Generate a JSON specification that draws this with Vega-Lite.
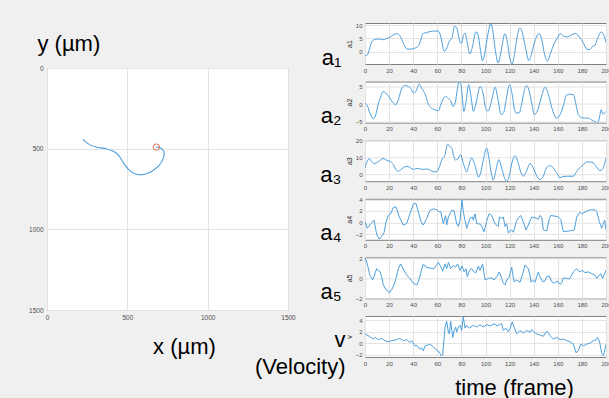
{
  "$schema": "https://vega.github.io/schema/vega-lite/v6.json",
  "background": "#f0f0f0",
  "padding": {"left": 28, "top": 21, "right": 0, "bottom": 0},
  "spacing": -42,
  "datasets": {
    "traj": [
      {"t":0,"x":223,"y":442},{"t":1,"x":265,"y":475},{"t":2,"x":306,"y":490},{"t":3,"x":369,"y":500},{"t":4,"x":410,"y":515},{"t":5,"x":442,"y":537},{"t":6,"x":473,"y":583},{"t":7,"x":504,"y":625},{"t":8,"x":535,"y":650},{"t":9,"x":577,"y":662},{"t":10,"x":619,"y":656},{"t":11,"x":660,"y":635},{"t":12,"x":698,"y":604},{"t":13,"x":723,"y":562},{"t":14,"x":729,"y":525},{"t":15,"x":719,"y":504},{"t":16,"x":698,"y":492},{"t":17,"x":681,"y":490}
    ],
    "start": [{"x":681,"y":490}],
    "a1": [
      {"f":0,"y":-1.6},{"f":2,"y":-1.2},{"f":4,"y":1.5},{"f":6,"y":4.0},{"f":9,"y":4.7},{"f":12,"y":4.8},{"f":15,"y":4.5},{"f":18,"y":5.0},{"f":21,"y":5.5},{"f":24,"y":6.5},{"f":27,"y":6.8},{"f":29,"y":6.0},{"f":32,"y":3.0},{"f":35,"y":1.0},{"f":38,"y":1.0},{"f":41,"y":1.3},{"f":44,"y":2.0},{"f":46,"y":4.0},{"f":48,"y":6.8},{"f":51,"y":7.2},{"f":54,"y":7.6},{"f":58,"y":7.8},{"f":61,"y":7.7},{"f":63,"y":5.5},{"f":65,"y":1.0},{"f":66,"y":0.2},{"f":68,"y":1.5},{"f":70,"y":4.0},{"f":72,"y":5.0},{"f":74.5,"y":9.6},{"f":76.5,"y":8.5},{"f":78.5,"y":4.0},{"f":80,"y":3.2},{"f":82,"y":6.5},{"f":83,"y":7.0},{"f":85,"y":3.0},{"f":87,"y":-0.8},{"f":89,"y":1.5},{"f":92,"y":7.5},{"f":94,"y":6.0},{"f":96,"y":0},{"f":97.5,"y":-3.4},{"f":99,"y":-1.5},{"f":101,"y":4},{"f":104.5,"y":10.6},{"f":106,"y":8},{"f":108,"y":1},{"f":110.5,"y":-4.2},{"f":112,"y":-2},{"f":114,"y":3},{"f":116,"y":6.8},{"f":118,"y":4},{"f":120,"y":-2},{"f":122,"y":-4.6},{"f":124,"y":-1},{"f":126,"y":5},{"f":128.5,"y":9},{"f":130,"y":8},{"f":133,"y":2},{"f":136,"y":-3.3},{"f":138,"y":-1},{"f":141,"y":4},{"f":144.5,"y":6.8},{"f":147,"y":4},{"f":149,"y":-1},{"f":151.5,"y":-3.5},{"f":154,"y":-0.5},{"f":157,"y":3},{"f":160,"y":5.5},{"f":162,"y":6.8},{"f":165,"y":5.8},{"f":168,"y":5.6},{"f":170,"y":6.0},{"f":172,"y":6.5},{"f":175,"y":6.9},{"f":178,"y":5.5},{"f":181,"y":3.5},{"f":184,"y":1.0},{"f":186,"y":0.8},{"f":189,"y":2.0},{"f":191,"y":2.5},{"f":193,"y":5.0},{"f":196,"y":7.4},{"f":198,"y":6.5},{"f":200,"y":3.5}
    ],
    "a2": [
      {"f":0,"y":0.3},{"f":2,"y":-0.5},{"f":4,"y":-2.5},{"f":7,"y":-4.2},{"f":9,"y":-3},{"f":11,"y":0},{"f":13,"y":2},{"f":15,"y":3.6},{"f":17,"y":3.2},{"f":20,"y":2},{"f":23,"y":0.5},{"f":25.5,"y":-0.2},{"f":28,"y":1.5},{"f":30,"y":4},{"f":33,"y":5.3},{"f":36,"y":5},{"f":38,"y":4.5},{"f":40,"y":3.2},{"f":42,"y":3.5},{"f":45,"y":5.7},{"f":47,"y":4.5},{"f":50,"y":2.7},{"f":52,"y":0.5},{"f":54.5,"y":-1},{"f":57,"y":-1.5},{"f":61,"y":-1.9},{"f":63,"y":0},{"f":65,"y":1.5},{"f":67,"y":2.2},{"f":69,"y":1.6},{"f":71,"y":1.0},{"f":73,"y":-0.7},{"f":75,"y":0.5},{"f":76.5,"y":4},{"f":78,"y":6.3},{"f":79.5,"y":5.8},{"f":81,"y":1},{"f":82,"y":-2.1},{"f":84,"y":1},{"f":86,"y":5.5},{"f":88,"y":2},{"f":90,"y":-2.1},{"f":92,"y":0},{"f":95.5,"y":5},{"f":98,"y":3},{"f":100,"y":-1},{"f":102,"y":-2},{"f":104,"y":-0.5},{"f":106,"y":2.5},{"f":108,"y":4.8},{"f":110,"y":2},{"f":113,"y":-3},{"f":115,"y":-2.5},{"f":117,"y":1},{"f":120,"y":5.5},{"f":122,"y":3},{"f":124,"y":-1.5},{"f":125.5,"y":-2.6},{"f":128,"y":-2.5},{"f":130,"y":0},{"f":132,"y":3.5},{"f":134,"y":5.3},{"f":136,"y":4},{"f":138.5,"y":0},{"f":140.5,"y":-3},{"f":143,"y":-2},{"f":146,"y":1.5},{"f":149.5,"y":4.8},{"f":152,"y":3},{"f":155,"y":-1},{"f":159,"y":-4},{"f":162,"y":-3},{"f":165,"y":0},{"f":167,"y":2.5},{"f":170,"y":2.8},{"f":173,"y":2.7},{"f":175,"y":0},{"f":177,"y":-3},{"f":179,"y":-3.8},{"f":182,"y":-4},{"f":185,"y":-4},{"f":188,"y":-4.5},{"f":191,"y":-5.1},{"f":193,"y":-5.4},{"f":194.5,"y":-4},{"f":196,"y":-1.6},{"f":197.5,"y":-2.9},{"f":199,"y":-2.5},{"f":200,"y":-2.1}
    ],
    "a3": [
      {"f":0,"y":4},{"f":2,"y":8},{"f":3.6,"y":9.2},{"f":5.5,"y":7.5},{"f":7.5,"y":6.4},{"f":10,"y":7},{"f":13,"y":8.5},{"f":15,"y":9.3},{"f":18,"y":8.3},{"f":21,"y":7.6},{"f":23.5,"y":5.8},{"f":25.5,"y":3},{"f":27,"y":1.9},{"f":30,"y":3},{"f":33,"y":4.5},{"f":35,"y":4.8},{"f":38,"y":3.8},{"f":40,"y":3},{"f":42,"y":3.3},{"f":44,"y":3.6},{"f":46,"y":3.2},{"f":48,"y":3.0},{"f":51,"y":3.2},{"f":53,"y":3},{"f":55,"y":2.2},{"f":58,"y":1.5},{"f":60,"y":2},{"f":62,"y":5},{"f":64,"y":9},{"f":66,"y":10.5},{"f":68.6,"y":17.8},{"f":70,"y":16.5},{"f":72,"y":15.3},{"f":73.5,"y":11},{"f":75,"y":8.5},{"f":77,"y":9},{"f":79.4,"y":11.6},{"f":81,"y":8},{"f":83,"y":3.5},{"f":84.4,"y":1.5},{"f":86,"y":5},{"f":88.5,"y":9.7},{"f":90.5,"y":7},{"f":92.5,"y":2},{"f":94,"y":-1.6},{"f":96,"y":1},{"f":98,"y":8},{"f":101,"y":15.3},{"f":103,"y":9},{"f":105,"y":0},{"f":106.5,"y":-3.3},{"f":108.5,"y":2},{"f":111,"y":8.7},{"f":113,"y":5},{"f":115.5,"y":-1.5},{"f":117.6,"y":-3.9},{"f":120,"y":0},{"f":122,"y":7},{"f":124.5,"y":11},{"f":127,"y":7},{"f":129,"y":2},{"f":131.4,"y":-1},{"f":134,"y":2},{"f":137,"y":6.4},{"f":139.5,"y":4},{"f":142,"y":0},{"f":145,"y":-2.9},{"f":148,"y":-1},{"f":150,"y":3},{"f":153,"y":5.2},{"f":156,"y":4},{"f":159,"y":1},{"f":161.8,"y":-1.9},{"f":164,"y":-1.2},{"f":167,"y":-1},{"f":170,"y":-1},{"f":173,"y":-1},{"f":175,"y":1},{"f":178,"y":3.9},{"f":181,"y":5.5},{"f":184,"y":7.4},{"f":187,"y":7.2},{"f":189.5,"y":6.8},{"f":192,"y":4.5},{"f":195,"y":2.3},{"f":197,"y":3},{"f":200,"y":9.7}
    ],
    "a4": [
      {"f":0,"y":0.1},{"f":1.9,"y":-1.0},{"f":5,"y":-0.2},{"f":7.5,"y":0.4},{"f":9.7,"y":-2.1},{"f":11.9,"y":-2.9},{"f":13.8,"y":-2.4},{"f":15.8,"y":-1.8},{"f":17.4,"y":0.1},{"f":19.4,"y":1.2},{"f":21.3,"y":1.5},{"f":23.5,"y":2.6},{"f":25.7,"y":2.7},{"f":28.5,"y":0.95},{"f":31.8,"y":-0.45},{"f":34.6,"y":-0.2},{"f":37.3,"y":1.5},{"f":40.1,"y":3.2},{"f":42.3,"y":3.3},{"f":44.3,"y":1.8},{"f":46.5,"y":0.1},{"f":48.4,"y":-0.45},{"f":51.2,"y":0.7},{"f":53.9,"y":2.1},{"f":56.7,"y":2.35},{"f":59.5,"y":2.2},{"f":61.7,"y":1.8},{"f":62.8,"y":1.9},{"f":65,"y":-0.2},{"f":66.9,"y":1.2},{"f":67.8,"y":-0.45},{"f":69.2,"y":0.95},{"f":71.9,"y":2.1},{"f":73.9,"y":2.0},{"f":76.1,"y":-0.2},{"f":77.5,"y":-0.7},{"f":78.8,"y":0.4},{"f":80.5,"y":3.9},{"f":81.6,"y":1.8},{"f":84.4,"y":-1.0},{"f":87.1,"y":0.7},{"f":89.1,"y":0.95},{"f":89.9,"y":0.4},{"f":91.3,"y":1.5},{"f":92.7,"y":-0.2},{"f":96,"y":-0.3},{"f":98.8,"y":-1.6},{"f":101,"y":0.2},{"f":102.9,"y":1.5},{"f":105.1,"y":1.2},{"f":107.9,"y":-0.2},{"f":110.6,"y":-0.7},{"f":111.5,"y":0.95},{"f":113.4,"y":0.7},{"f":114.8,"y":0.95},{"f":116.2,"y":-0.7},{"f":117.6,"y":-0.2},{"f":119,"y":-1.8},{"f":121.7,"y":-1.3},{"f":123.1,"y":-1.7},{"f":125.9,"y":0.4},{"f":128.1,"y":0.95},{"f":129.2,"y":1.2},{"f":131.4,"y":0.1},{"f":133.6,"y":-1.3},{"f":135.5,"y":-0.45},{"f":138.3,"y":0.95},{"f":142.5,"y":0.7},{"f":143.8,"y":0.55},{"f":145.2,"y":1.2},{"f":146.6,"y":0.95},{"f":148,"y":-1.3},{"f":150.8,"y":-1.45},{"f":153,"y":0.7},{"f":154.1,"y":1.2},{"f":157.7,"y":1.1},{"f":160.4,"y":0.95},{"f":162.4,"y":0.55},{"f":164.6,"y":-1.6},{"f":170.1,"y":-1.45},{"f":173.7,"y":-1.3},{"f":175.7,"y":0.95},{"f":178.4,"y":1.8},{"f":179.8,"y":1.5},{"f":182.6,"y":1.8},{"f":186.7,"y":2.2},{"f":190.9,"y":2.2},{"f":192.3,"y":1.9},{"f":194.5,"y":0.1},{"f":196.4,"y":-1.0},{"f":197.8,"y":-0.2},{"f":198.9,"y":0.4},{"f":200,"y":-1.3}
    ],
    "a5": [
      {"f":0,"y":2.1},{"f":1.9,"y":1.45},{"f":4.1,"y":0.3},{"f":6.4,"y":-0.15},{"f":9.7,"y":0.97},{"f":12.4,"y":0.65},{"f":13.8,"y":0.16},{"f":15.2,"y":-0.65},{"f":17.4,"y":-1.13},{"f":18.8,"y":-1.23},{"f":20.2,"y":-1.45},{"f":22.1,"y":-1.13},{"f":24.1,"y":-0.65},{"f":25.7,"y":0},{"f":27.7,"y":0.97},{"f":29.6,"y":1.45},{"f":32.4,"y":0.8},{"f":34.6,"y":0.32},{"f":37.3,"y":0},{"f":40.1,"y":-0.48},{"f":42.9,"y":-0.65},{"f":44.3,"y":-0.32},{"f":46.5,"y":0.65},{"f":48.4,"y":1.45},{"f":50.6,"y":1.13},{"f":53.9,"y":1.03},{"f":57.3,"y":0.97},{"f":59.5,"y":1.36},{"f":60.9,"y":1.6},{"f":63.1,"y":1.13},{"f":64.5,"y":0.71},{"f":66.4,"y":1.45},{"f":67.8,"y":0.97},{"f":69.2,"y":1.6},{"f":71.1,"y":0.97},{"f":73.3,"y":1.3},{"f":75,"y":1.13},{"f":76.9,"y":1.45},{"f":78.8,"y":0.8},{"f":80.5,"y":1.23},{"f":82.2,"y":0.65},{"f":83.8,"y":0.97},{"f":84.9,"y":0.16},{"f":86.6,"y":0.8},{"f":88.5,"y":0.97},{"f":90.5,"y":0.65},{"f":92.1,"y":0.58},{"f":94.1,"y":1.23},{"f":95.4,"y":0.8},{"f":97.6,"y":1.45},{"f":99.6,"y":-0.16},{"f":102.4,"y":0},{"f":105.1,"y":0.06},{"f":107.1,"y":-0.16},{"f":109.3,"y":0.16},{"f":111.5,"y":0.65},{"f":113.4,"y":0},{"f":114.8,"y":-0.48},{"f":116.2,"y":-0.65},{"f":117.6,"y":-0.16},{"f":119.8,"y":0.16},{"f":121.7,"y":1.13},{"f":123.7,"y":-0.32},{"f":125.9,"y":-0.16},{"f":128.6,"y":-0.39},{"f":131.4,"y":0.65},{"f":132.8,"y":1.36},{"f":135.5,"y":0.97},{"f":136.9,"y":0.32},{"f":137.8,"y":-0.39},{"f":139.1,"y":-0.16},{"f":141.1,"y":-0.39},{"f":143.8,"y":0.65},{"f":145.2,"y":0.16},{"f":147.4,"y":-0.32},{"f":149.4,"y":-0.26},{"f":150.8,"y":0.16},{"f":153,"y":0.26},{"f":154.9,"y":-0.32},{"f":157.1,"y":-0.48},{"f":159.6,"y":-0.26},{"f":161.8,"y":-0.58},{"f":163.2,"y":-0.48},{"f":164.6,"y":0.06},{"f":167.4,"y":0},{"f":169.6,"y":-0.06},{"f":171.5,"y":0.32},{"f":172.9,"y":0.65},{"f":175.7,"y":0.97},{"f":177.9,"y":0.65},{"f":180.6,"y":0.8},{"f":182.6,"y":0.58},{"f":185.3,"y":0.65},{"f":188.1,"y":0.48},{"f":190.9,"y":0.32},{"f":192.3,"y":0},{"f":194.5,"y":0.32},{"f":195.6,"y":0.48},{"f":197.2,"y":0},{"f":198.3,"y":0.32},{"f":200,"y":0.8}
    ],
    "v": [
      {"f":0,"y":1.6},{"f":3.6,"y":1.19},{"f":6.9,"y":0.71},{"f":8.3,"y":1.0},{"f":11.1,"y":0.59},{"f":13.8,"y":0.83},{"f":16.6,"y":0.42},{"f":19.4,"y":0.24},{"f":22.1,"y":0.42},{"f":26.3,"y":0.59},{"f":29,"y":0.83},{"f":31.8,"y":0.42},{"f":34.6,"y":0.59},{"f":37.3,"y":0.12},{"f":38.7,"y":0.42},{"f":41.5,"y":-0.47},{"f":42.9,"y":-0.36},{"f":45.6,"y":-1.07},{"f":47,"y":-0.77},{"f":48.4,"y":-1.36},{"f":49.8,"y":-0.47},{"f":51.7,"y":-0.36},{"f":53.9,"y":-0.18},{"f":56.7,"y":-0.65},{"f":58.9,"y":-1.07},{"f":60.9,"y":-1.36},{"f":63.6,"y":-2.25},{"f":64.5,"y":-1.96},{"f":66.4,"y":2.79},{"f":67.8,"y":3.8},{"f":69.2,"y":1.9},{"f":70,"y":1.6},{"f":71.1,"y":3.8},{"f":72.8,"y":1.0},{"f":74.1,"y":2.19},{"f":75.2,"y":2.79},{"f":76.1,"y":1.9},{"f":77.5,"y":2.79},{"f":78.8,"y":3.08},{"f":80.2,"y":2.19},{"f":81.6,"y":4.57},{"f":83,"y":2.6},{"f":84.4,"y":3.08},{"f":86.6,"y":2.6},{"f":89.9,"y":3.08},{"f":92.7,"y":2.79},{"f":95.4,"y":3.2},{"f":98.2,"y":2.79},{"f":101,"y":3.2},{"f":103.7,"y":2.97},{"f":107.9,"y":3.38},{"f":109.3,"y":2.97},{"f":111.5,"y":3.2},{"f":113.4,"y":3.38},{"f":114.8,"y":2.19},{"f":117,"y":2.6},{"f":119,"y":2.0},{"f":120.3,"y":2.49},{"f":122.3,"y":3.68},{"f":123.7,"y":2.79},{"f":125.9,"y":1.6},{"f":128.6,"y":2.19},{"f":131.4,"y":1.78},{"f":134.2,"y":2.19},{"f":136.9,"y":1.9},{"f":138.3,"y":2.37},{"f":139.7,"y":2.0},{"f":142.5,"y":1.6},{"f":145.2,"y":1.42},{"f":148,"y":1.19},{"f":150.2,"y":1.9},{"f":151.3,"y":2.0},{"f":153.5,"y":1.3},{"f":156.3,"y":0.71},{"f":159.1,"y":1.0},{"f":161.8,"y":0.59},{"f":164.6,"y":0.71},{"f":167.4,"y":0.42},{"f":170.1,"y":0.24},{"f":172.9,"y":-0.18},{"f":175.1,"y":-1.66},{"f":177,"y":-1.36},{"f":179,"y":-0.18},{"f":181.2,"y":-0.47},{"f":184,"y":-0.18},{"f":186.7,"y":0},{"f":189.5,"y":0.42},{"f":191.7,"y":0.59},{"f":192.8,"y":1.0},{"f":194.5,"y":0.42},{"f":196.4,"y":-1.66},{"f":197.8,"y":-2.13},{"f":198.6,"y":-1.66},{"f":200,"y":-0.18}
    ]
  },
  "hconcat": [
    {
      "vconcat": [
        {
          "width": 241,
          "height": 30,
          "data": {"values": []},
          "mark": "point",
          "view": {"stroke": null, "fill": null}
        },
        {
          "width": 241,
          "height": 242,
          "layer": [
            {
              "data": {"name": "traj"},
              "mark": {"type": "line", "interpolate": "catmull-rom", "color": "#4d9fdc", "strokeWidth": 1.1},
              "encoding": {
                "x": {"field": "x", "type": "quantitative", "scale": {"domain": [0, 1500], "nice": false}, "axis": {"values": [0, 500, 1000, 1500], "format": "d", "title": "x (µm)", "titleFontSize": 22, "titleColor": "black", "titleX": 137, "titleY": 43, "titleAlign": "center", "titleBaseline": "alphabetic", "labelFontSize": 6.5, "labelPadding": 4}},
                "y": {"field": "y", "type": "quantitative", "scale": {"domain": [0, 1500], "nice": false, "reverse": true}, "axis": {"values": [0, 500, 1000, 1500], "format": "d", "title": "y (µm)", "titleFontSize": 22, "titleColor": "black", "titleAngle": 0, "titleAlign": "left", "titleBaseline": "alphabetic", "titleX": -10, "titleY": -18, "labelFontSize": 6.5, "labelPadding": 4}},
                "order": {"field": "t", "type": "quantitative"}
              }
            },
            {
              "data": {"name": "start"},
              "mark": {"type": "point", "shape": "circle", "filled": false, "color": "#e8704f", "size": 40, "strokeWidth": 1, "opacity": 1},
              "encoding": {
                "x": {"field": "x", "type": "quantitative"},
                "y": {"field": "y", "type": "quantitative"}
              }
            }
          ]
        }
      ],
      "spacing": 15,
      "bounds": "flush"
    },
    {
      "vconcat": [
        {
          "width": 241, "height": 41,
          "data": {"name": "a1"},
          "mark": {"type": "line", "interpolate": "monotone", "color": "#4d9fdc", "strokeWidth": 1, "clip": true},
          "encoding": {
            "x": {"field": "f", "type": "quantitative", "scale": {"domain": [0, 200], "nice": false}, "axis": {"values": [0,20,40,60,80,100,120,140,160,180,200], "title": "a₁", "titleFontSize": 22, "titleColor": "black", "titleAngle": 0, "titleAlign": "right", "titleBaseline": "alphabetic", "titleX": -24, "titleY": 0}},
            "y": {"field": "y", "type": "quantitative", "scale": {"domain": [-4.6, 10.8], "nice": false, "zero": false}, "axis": {"values": [0, 5, 10], "title": "a1"}}
          }
        },
        {
          "width": 241, "height": 41,
          "data": {"name": "a2"},
          "mark": {"type": "line", "interpolate": "monotone", "color": "#4d9fdc", "strokeWidth": 1, "clip": true},
          "encoding": {
            "x": {"field": "f", "type": "quantitative", "scale": {"domain": [0, 200], "nice": false}, "axis": {"values": [0,20,40,60,80,100,120,140,160,180,200], "title": "a₂", "titleFontSize": 22, "titleColor": "black", "titleAngle": 0, "titleAlign": "right", "titleBaseline": "alphabetic", "titleX": -24, "titleY": 0}},
            "y": {"field": "y", "type": "quantitative", "scale": {"domain": [-5.3, 6.4], "nice": false, "zero": false}, "axis": {"values": [-5, 0, 5], "title": "a2"}}
          }
        },
        {
          "width": 241, "height": 41,
          "data": {"name": "a3"},
          "mark": {"type": "line", "interpolate": "monotone", "color": "#4d9fdc", "strokeWidth": 1, "clip": true},
          "encoding": {
            "x": {"field": "f", "type": "quantitative", "scale": {"domain": [0, 200], "nice": false}, "axis": {"values": [0,20,40,60,80,100,120,140,160,180,200], "title": "a₃", "titleFontSize": 22, "titleColor": "black", "titleAngle": 0, "titleAlign": "right", "titleBaseline": "alphabetic", "titleX": -24, "titleY": 0}},
            "y": {"field": "y", "type": "quantitative", "scale": {"domain": [-3.9, 20], "nice": false, "zero": false}, "axis": {"values": [0, 10, 20], "title": "a3"}}
          }
        },
        {
          "width": 241, "height": 41,
          "data": {"name": "a4"},
          "mark": {"type": "line", "color": "#4d9fdc", "strokeWidth": 1, "clip": true},
          "encoding": {
            "x": {"field": "f", "type": "quantitative", "scale": {"domain": [0, 200], "nice": false}, "axis": {"values": [0,20,40,60,80,100,120,140,160,180,200], "title": "a₄", "titleFontSize": 22, "titleColor": "black", "titleAngle": 0, "titleAlign": "right", "titleBaseline": "alphabetic", "titleX": -24, "titleY": 0}},
            "y": {"field": "y", "type": "quantitative", "scale": {"domain": [-3, 4.1], "nice": false, "zero": false}, "axis": {"values": [-2, 0, 2, 4], "title": "a4"}}
          }
        },
        {
          "width": 241, "height": 41,
          "data": {"name": "a5"},
          "mark": {"type": "line", "color": "#4d9fdc", "strokeWidth": 1, "clip": true},
          "encoding": {
            "x": {"field": "f", "type": "quantitative", "scale": {"domain": [0, 200], "nice": false}, "axis": {"values": [0,20,40,60,80,100,120,140,160,180,200], "title": "a₅", "titleFontSize": 22, "titleColor": "black", "titleAngle": 0, "titleAlign": "right", "titleBaseline": "alphabetic", "titleX": -24, "titleY": 0}},
            "y": {"field": "y", "type": "quantitative", "scale": {"domain": [-2, 2.1], "nice": false, "zero": false}, "axis": {"values": [-2, 0, 2], "title": "a5"}}
          }
        },
        {
          "width": 241, "height": 41,
          "data": {"name": "v"},
          "layer": [
            {
              "mark": {"type": "line", "color": "#4d9fdc", "strokeWidth": 1, "clip": true},
              "encoding": {
                "x": {"field": "f", "type": "quantitative", "scale": {"domain": [0, 200], "nice": false}, "axis": {"values": [0,20,40,60,80,100,120,140,160,180,200], "labelOverlap": false, "title": "time (frame)", "titleFontSize": 22, "titleColor": "black", "titleX": 149, "titleY": 37, "titleAlign": "center", "titleBaseline": "alphabetic"}},
                "y": {"field": "y", "type": "quantitative", "scale": {"domain": [-2.4, 4.7], "nice": false, "zero": false}, "axis": {"values": [-2, 0, 2, 4], "title": "v"}}
              }
            },
            {
              "mark": {"type": "line", "opacity": 0, "clip": true},
              "encoding": {
                "x": {"field": "f", "type": "quantitative", "scale": {"domain": [0, 200], "nice": false}, "axis": {"values": [0,20,40,60,80,100,120,140,160,180,200], "labelOverlap": false, "title": "time (frame)", "titleFontSize": 22, "titleColor": "black", "titleX": 149, "titleY": 37, "titleAlign": "center", "titleBaseline": "alphabetic"}},
                "y": {"field": "y", "type": "quantitative", "scale": {"domain": [-2.4, 4.7], "nice": false, "zero": false}, "axis": {"orient": "left", "labels": false, "grid": false, "values": [0], "title": ["v", "(Velocity)"], "titleLineHeight": 27, "titleFontSize": 22, "titleColor": "black", "titleAngle": 0, "titleAlign": "right", "titleBaseline": "alphabetic", "titleX": -20, "titleY": 30}}
              }
            }
          ],
          "resolve": {"scale": {"y": "independent"}, "axis": {"y": "independent"}}
        }
      ],
      "spacing": 17.6,
      "bounds": "flush"
    }
  ],
  "config": {
    "view": {"stroke": "#808080", "fill": "white", "strokeWidth": 1},
    "axis": {"labelFont": "Liberation Sans", "labelFontSize": 6, "labelColor": "#4d4d4d", "domain": false, "ticks": false, "gridColor": "#e3e3e3", "labelPadding": 3, "titleFont": "Liberation Sans", "titleFontWeight": "normal", "titleColor": "#262626", "titleFontSize": 7, "titlePadding": 3, "labelFlush": false, "labelOverlap": false}
  }
}
